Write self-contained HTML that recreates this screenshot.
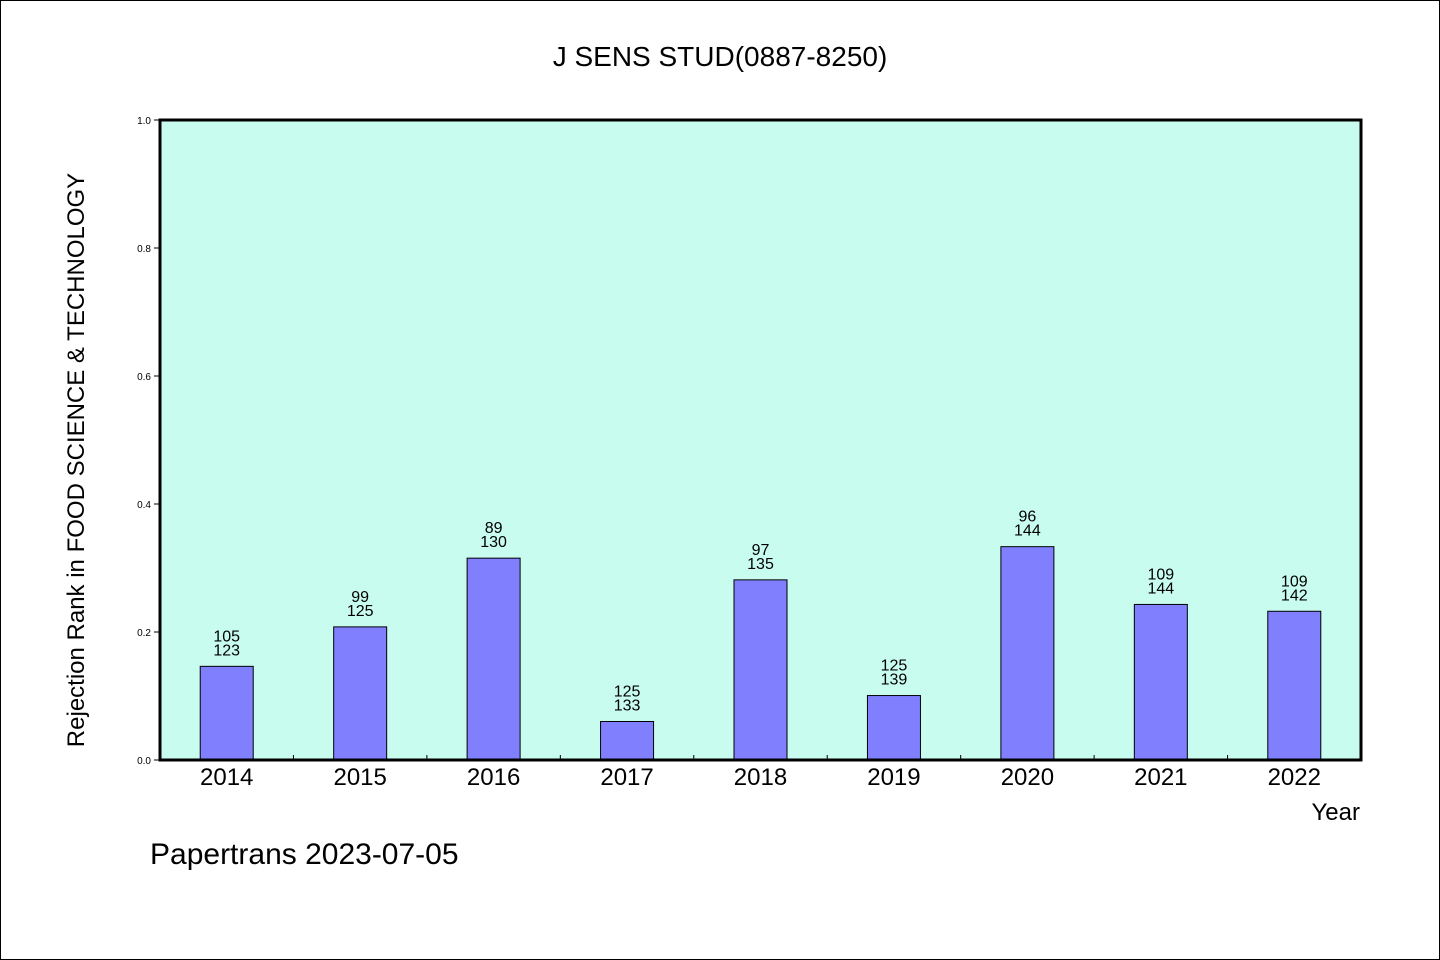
<!DOCTYPE html>
<html><head><meta charset="utf-8"><style>
html,body{margin:0;padding:0;background:#fff}
svg{display:block}
text{font-family:"WenQuanYi Zen Hei","Liberation Sans",sans-serif;fill:#000}
</style></head><body>
<svg width="1440" height="960">
<rect x="0.5" y="0.5" width="1439" height="959" fill="#fff" stroke="#000"/>
<text x="720" y="66" text-anchor="middle" font-size="28">J SENS STUD(0887-8250)</text>
<rect x="160" y="120" width="1201" height="640" fill="#c8fcee"/>
<g id="bars"></g>
<rect x="160" y="120" width="1201" height="640" fill="none" stroke="#000" stroke-width="3"/>
<g id="axes"></g>
<text transform="translate(84,460) rotate(-90)" text-anchor="middle" font-size="24">Rejection Rank in FOOD SCIENCE &amp; TECHNOLOGY</text>
<text x="1360" y="820" text-anchor="end" font-size="24">Year</text>
<text x="150" y="864" font-size="30">Papertrans 2023-07-05</text>
</svg>
<script>
const years=["2014","2015","2016","2017","2018","2019","2020","2021","2022"];
const ranks=[105,99,89,125,97,125,96,109,109];
const totals=[123,125,130,133,135,139,144,144,142];
const yTicks=[0,0.2,0.4,0.6,0.8,1.0];
const NS="http://www.w3.org/2000/svg";
const X0=160,W=1201,Y0=760,H=640;
const band=W/years.length;
const xc=i=>X0+(i+0.5)*band;
const y=v=>Y0-v*H;
function mk(t,a,p){const e=document.createElementNS(NS,t);for(const k in a)e.setAttribute(k,a[k]);p.appendChild(e);return e;}
const gb=document.getElementById('bars'),ga=document.getElementById('axes');
years.forEach((yr,i)=>{
 const v=(totals[i]-ranks[i])/totals[i];
 const r=mk('rect',{x:xc(i)-26.5,y:y(v),width:53,height:Y0-y(v),fill:'#8080ff',stroke:'#000','stroke-width':1},gb);
 
 
 const t1=mk('text',{x:xc(i),y:y(v)-25,'text-anchor':'middle','font-size':16},gb);t1.textContent=ranks[i];
 
 
 const t2=mk('text',{x:xc(i),y:y(v)-11,'text-anchor':'middle','font-size':16},gb);t2.textContent=totals[i];
 
 
 const xl=mk('text',{x:xc(i),y:785,'text-anchor':'middle','font-size':24},ga);xl.textContent=yr;
 
 
 if(i>0){const tk=mk('line',{x1:X0+i*band,x2:X0+i*band,y1:Y0,y2:Y0-5,stroke:'#000'},ga);
 
 }
});
yTicks.forEach(v=>{
 const l=mk('line',{x1:154,x2:160,y1:y(v),y2:y(v),stroke:'#000'},ga);
 
 
 const t=mk('text',{x:151,y:y(v)+4,'text-anchor':'end','font-size':10},ga);t.textContent=v.toFixed(1);
 
 
});
</script>
</body></html>
